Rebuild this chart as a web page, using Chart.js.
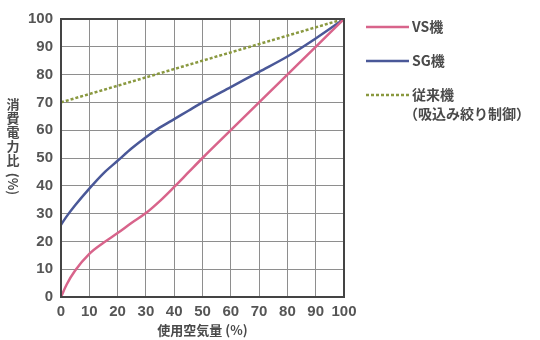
<!DOCTYPE html>
<html>
<head>
<meta charset="utf-8">
<script src="https://cdn.jsdelivr.net/npm/chart.js@4.4.1/dist/chart.umd.min.js"></script>
<style>
  html, body { margin: 0; padding: 0; background: #fff; }
  #wrap { width: 540px; height: 340px; }
</style>
</head>
<body>
<div id="wrap"><canvas id="c" width="540" height="340"></canvas></div>
<script>
// Air flow (%) sampled along the curves
const airFlow = [0, 2, 5, 10, 15, 20, 25, 30, 35, 40, 45, 50, 60, 70, 80, 90, 100];
// Power ratio (%) for the VS unit
const vsPower = [0, 4.5, 9.5, 15.5, 19.5, 23, 26.7, 30.2, 34.6, 39.6, 44.8, 50, 60, 70, 80, 90, 100];
// Power ratio (%) for the SG unit
const sgPower = [26, 29, 33, 39, 44.5, 49, 53.5, 57.5, 61, 64, 67, 70, 75.5, 81, 86.5, 93, 100];
// Conventional unit (suction throttle control): straight line
const convAir = [0, 100];
const convPower = [70, 100];

const seriesNames = ['VS機', 'SG機', '従来機'];
const convNote = '（吸込み絞り制御）';
const xTitle = '使用空気量 (%)';
const yTitleChars = ['消', '費', '電', '力', '比'];
const yTitleUnit = '(%)';
const tickValues = [0, 10, 20, 30, 40, 50, 60, 70, 80, 90, 100];

const colors = { vs: '#d8648b', sg: '#4a5898', conv: '#8a9940' };

const toPoints = (xs, ys) => xs.map((x, i) => ({ x, y: ys[i] }));

const TICK_FONT = { family: '"Liberation Sans", Arial, sans-serif', size: 15, weight: 'bold' };
const JP_FONT = '"Noto Sans CJK JP", sans-serif';

// Frame around the plot plus the custom legend and vertical Japanese axis title
const decorations = {
  id: 'decorations',
  afterDatasetsDraw(chart) {
    const { ctx, chartArea: a } = chart;
    ctx.save();
    ctx.strokeStyle = '#444';
    ctx.lineWidth = 2;
    ctx.strokeRect(a.left, a.top, a.right - a.left, a.bottom - a.top);
    ctx.restore();
  },
  afterDraw(chart) {
    const { ctx } = chart;
    const ds = chart.data.datasets;
    ctx.save();
    // legend
    const rows = [27, 61, 95];
    ctx.font = 'bold 14px ' + JP_FONT;
    ctx.textBaseline = 'middle';
    ctx.fillStyle = '#4a4a4a';
    ds.forEach((d, i) => {
      const y = rows[i];
      ctx.beginPath();
      ctx.strokeStyle = d.borderColor;
      ctx.lineWidth = d.borderWidth;
      ctx.setLineDash(d.borderDash || []);
      ctx.moveTo(366, y);
      ctx.lineTo(409, y);
      ctx.stroke();
      ctx.setLineDash([]);
      ctx.fillText(d.label, 412, y);
    });
    ctx.fillText(convNote, 404, 114);

    // y axis title, upright characters stacked vertically
    ctx.font = 'bold 13px ' + JP_FONT;
    ctx.textAlign = 'center';
    ctx.fillStyle = '#4a4a4a';
    yTitleChars.forEach((ch, i) => ctx.fillText(ch, 13, 104 + i * 14));
    ctx.translate(13, 184);
    ctx.rotate(Math.PI / 2);
    ctx.fillText(yTitleUnit, 0, 0);
    ctx.restore();
  }
};

new Chart(document.getElementById('c'), {
  type: 'line',
  data: {
    datasets: [
      {
        label: seriesNames[0],
        data: toPoints(airFlow, vsPower),
        borderColor: colors.vs,
        borderWidth: 2.5,
        pointRadius: 0,
        cubicInterpolationMode: 'monotone'
      },
      {
        label: seriesNames[1],
        data: toPoints(airFlow, sgPower),
        borderColor: colors.sg,
        borderWidth: 2.5,
        pointRadius: 0,
        cubicInterpolationMode: 'monotone'
      },
      {
        label: seriesNames[2],
        data: toPoints(convAir, convPower),
        borderColor: colors.conv,
        borderWidth: 2.5,
        borderDash: [3, 2],
        pointRadius: 0
      }
    ]
  },
  options: {
    responsive: false,
    animation: false,
    layout: { padding: { top: 19, right: 196, left: 0, bottom: 0 } },
    plugins: { legend: { display: false }, tooltip: { enabled: false } },
    scales: {
      x: {
        type: 'linear',
        min: 0, max: 100,
        afterBuildTicks(scale) { scale.ticks = tickValues.map(v => ({ value: v })); },
        afterFit(scale) { scale.height = 43; },
        grid: { color: '#8e8e8e', lineWidth: 1, drawTicks: false },
        border: { color: '#444', width: 2 },
        ticks: { font: TICK_FONT, color: '#555', padding: 6, maxRotation: 0, autoSkip: false },
        title: {
          display: true, text: xTitle, color: '#4a4a4a',
          font: { family: JP_FONT, size: 13, weight: 'bold' },
          padding: { top: 0, bottom: 2 }
        }
      },
      y: {
        min: 0, max: 100,
        afterBuildTicks(scale) { scale.ticks = tickValues.map(v => ({ value: v })); },
        afterFit(scale) { scale.width = 61; },
        grid: { color: '#8e8e8e', lineWidth: 1, drawTicks: false },
        border: { color: '#444', width: 2 },
        ticks: { font: TICK_FONT, color: '#555', padding: 8 }
      }
    }
  },
  plugins: [decorations]
});
</script>
</body>
</html>
